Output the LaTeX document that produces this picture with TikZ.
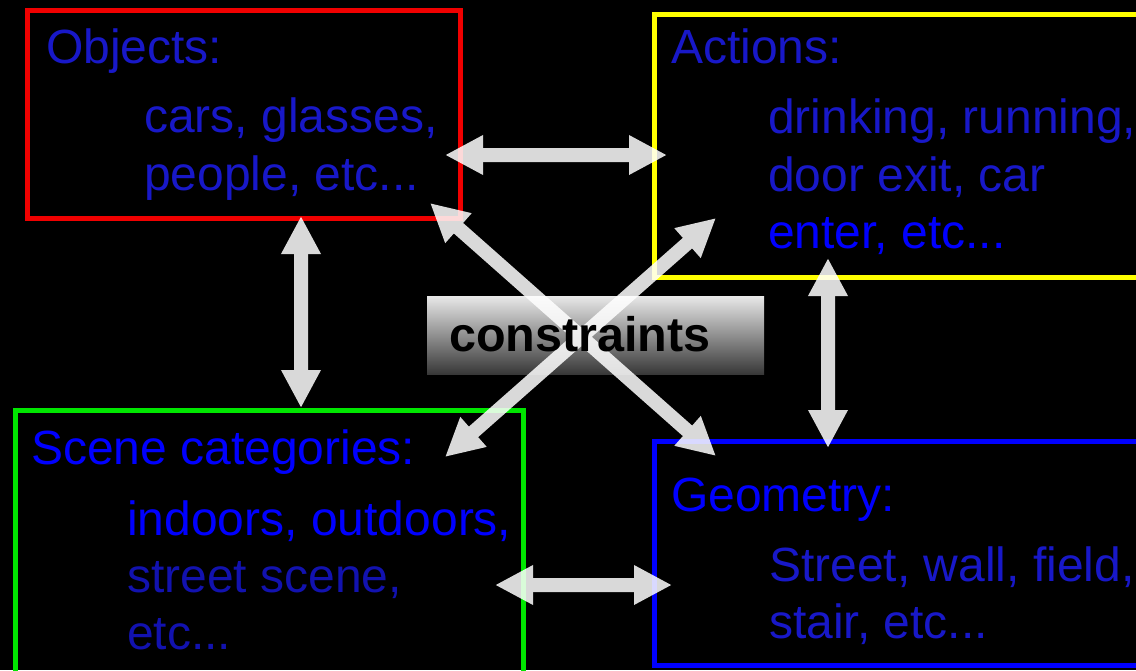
\documentclass[tikz,border=0pt]{standalone}
\usepackage{fontspec}
\setmainfont{Liberation Sans}
\usetikzlibrary{arrows.meta}
\definecolor{dimblue}{RGB}{24,24,200}
\definecolor{brightblue}{RGB}{0,0,255}
\definecolor{darkblue}{RGB}{18,18,175}
\definecolor{boxred}{RGB}{240,0,0}
\definecolor{boxyellow}{RGB}{255,255,0}
\definecolor{boxgreen}{RGB}{0,230,0}
\definecolor{boxblue}{RGB}{0,0,255}
\tikzset{
  catbox/.style={draw=#1, line width=5pt, anchor=north west, inner sep=0pt, outer sep=0pt},
  label text/.style={anchor=base west, inner sep=0pt, text=#1, font=\fontsize{48}{57}\selectfont},
  dblarrow/.style={draw=white, line width=14pt,
    {Triangle[length=38pt,width=37pt]}-{Triangle[length=38pt,width=37pt]}},
}
\begin{document}
\begin{tikzpicture}[x=1pt,y=-1pt]
\useasboundingbox (0,0) rectangle (1136,670);
\fill[black] (0,0) rectangle (1136,670);
\clip (0,0) rectangle (1136,670);

% boxes
\node[catbox=boxred, minimum width=433pt, minimum height=208pt] (obj) at (27,10) {};
\node[catbox=boxyellow, minimum width=500pt, minimum height=263pt] (act) at (654,14) {};
\node[catbox=boxgreen, minimum width=508pt, minimum height=290pt] (scn) at (15.5,410) {};
\node[catbox=boxblue, minimum width=500pt, minimum height=224pt] (geo) at (654,441.5) {};

% texts
\node[label text=dimblue] (objt) at (46,63) {Objects:};
\node[label text=dimblue] (obj1) at (144,132) {cars, glasses,};
\node[label text=dimblue] (obj2) at (144,190) {people, etc...};

\node[label text=dimblue] (actt) at (671,63) {Actions:};
\node[label text=dimblue] (act1) at (768,133) {drinking, running,};
\node[label text=dimblue] (act2) at (768,191) {door exit, car};
\node[label text=brightblue] (act3) at (768,248) {enter, etc...};

\node[label text=brightblue] (scnt) at (31,464) {Scene categories:};
\node[label text=brightblue] (scn1) at (127,535) {indoors, outdoors,};
\node[label text=darkblue] (scn2) at (127,592) {street scene,};
\node[label text=darkblue] (scn3) at (127,649) {etc...};

\node[label text=brightblue] (geot) at (671,511) {Geometry:};
\node[label text=dimblue] (geo1) at (769,581) {Street, wall, field,};
\node[label text=dimblue] (geo2) at (769,638) {stair, etc...};

% constraints box
\node[anchor=north west, inner sep=0pt, outer sep=0pt, minimum width=337pt, minimum height=78pt,
      top color=black!9, middle color=black!28, bottom color=black!78] (cons) at (427,296) {};

% arrow end points
\coordinate (a1) at (445,155);  \coordinate (b1) at (667,155);
\coordinate (a2) at (495,585);  \coordinate (b2) at (672,585);
\coordinate (a3) at (301,216);  \coordinate (b3) at (301,408);
\coordinate (a4) at (828,258);  \coordinate (b4) at (828,448);
\coordinate (a5) at (430,203);  \coordinate (b5) at (716,456);
\coordinate (a6) at (716,218);  \coordinate (b6) at (445,457);

\begin{scope}[transparency group, opacity=0.85]
\draw[dblarrow] (a1) -- (b1);
\draw[dblarrow] (a2) -- (b2);
\draw[dblarrow] (a3) -- (b3);
\draw[dblarrow] (a4) -- (b4);
\draw[dblarrow] (a5) -- (b5);
\draw[dblarrow] (a6) -- (b6);
\end{scope}

\node[anchor=base west, inner sep=0pt, font=\fontsize{48.5}{58}\selectfont\bfseries, text=black] (const) at (449,351) {constraints};
\end{tikzpicture}
\end{document}
